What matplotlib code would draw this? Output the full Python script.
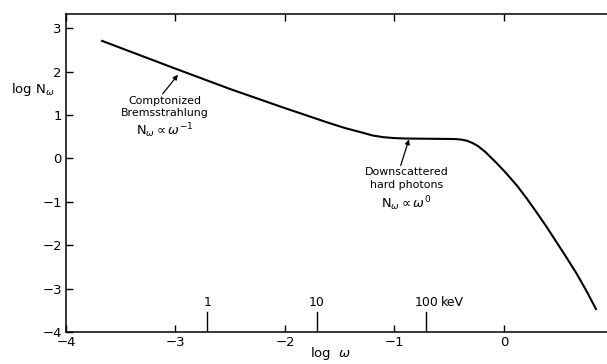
import numpy as np
import matplotlib
matplotlib.use('Agg')
import matplotlib.pyplot as plt
import matplotlib.transforms as mtransforms

# spectrum: log photon number vs log photon energy (units of m_e c^2)
log_w = [-3.67, -3.0, -2.5, -2.0, -1.8, -1.6, -1.45, -1.3, -1.2, -1.1,
         -1.0, -0.9, -0.7, -0.5, -0.44, -0.39, -0.34, -0.29, -0.24, -0.17,
         -0.07, 0.02, 0.12, 0.21, 0.30, 0.39, 0.48, 0.57, 0.66, 0.75, 0.84]
log_N = [2.71, 2.07, 1.60, 1.16, 0.99, 0.82, 0.70, 0.60, 0.53, 0.49,
         0.47, 0.46, 0.455, 0.45, 0.447, 0.435, 0.41, 0.36, 0.29, 0.15,
         -0.10, -0.34, -0.63, -0.93, -1.25, -1.58, -1.93, -2.28, -2.64,
         -3.04, -3.47]

# energy markers in keV
kev_vals = [1, 10, 100]
kev_labels = ['1', '10', '100']
mec2_kev = 511.0

xticks = [-4, -3, -2, -1, 0]
yticks = [-4, -3, -2, -1, 0, 1, 2, 3]

plt.rcParams['font.family'] = 'DejaVu Sans'

fig = plt.figure(figsize=(6.07, 3.64), dpi=100)
ax = fig.add_axes([0.1087, 0.0879, 0.902, 0.8736])

ax.plot(log_w, log_N, color='black', lw=1.5, solid_joinstyle='round')

ax.set_xlim(-4, 1.0)
ax.set_ylim(-4, 3.33)
ax.set_xticks(xticks)
ax.set_yticks(yticks)
ax.set_xticklabels(['\u2212%d' % -t if t < 0 else '%d' % t for t in xticks])
ax.set_yticklabels(['\u2212%d' % -t if t < 0 else '%d' % t for t in yticks])
ax.tick_params(direction='in', length=5, width=1.0, labelsize=9.5,
               top=True, right=False, pad=3)
ax.spines['right'].set_visible(False)
for s in ['left', 'bottom', 'top']:
    ax.spines[s].set_linewidth(1.1)

# keV scale: tall ticks above the bottom axis
for v, lab in zip(kev_vals, kev_labels):
    x = np.log10(v / mec2_kev)
    ax.plot([x, x], [-4, -3.55], color='black', lw=1.0)
    ax.text(x, -3.47, lab, ha='center', va='bottom', fontsize=9)
x100 = np.log10(kev_vals[-1] / mec2_kev)
ax.text(x100 + 0.13, -3.47, 'keV', ha='left', va='bottom', fontsize=9)

fig.text(0.545, 0.006, r'log  $\omega$', ha='center', va='bottom',
         fontsize=9.5)

trans = mtransforms.blended_transform_factory(fig.transFigure, ax.transData)
ax.text(0.0906, 1.51, r'log N$_\omega$', transform=trans, ha='right',
        va='baseline', fontsize=9.5)

# annotations
ax.annotate('', xy=(-2.977, 1.93), xytext=(-3.117, 1.49),
            arrowprops=dict(arrowstyle='-|>', lw=0.9, color='black',
                            mutation_scale=7, shrinkA=0, shrinkB=0))
ax.text(-3.10, 1.45, 'Comptonized\nBremsstrahlung', ha='center', va='top',
        fontsize=7.9, linespacing=1.3)
ax.text(-3.10, 0.64, r'N$_\omega \propto \omega^{-1}$', ha='center',
        va='center', fontsize=9.3)

ax.annotate('', xy=(-0.868, 0.44), xytext=(-0.943, -0.16),
            arrowprops=dict(arrowstyle='-|>', lw=0.9, color='black',
                            mutation_scale=7, shrinkA=0, shrinkB=0))
ax.text(-0.89, -0.20, 'Downscattered\nhard photons', ha='center', va='top',
        fontsize=7.9, linespacing=1.3)
ax.text(-0.89, -1.03, r'N$_\omega \propto \omega^0$', ha='center',
        va='center', fontsize=9.3)

fig.savefig('out.png', dpi=100)
